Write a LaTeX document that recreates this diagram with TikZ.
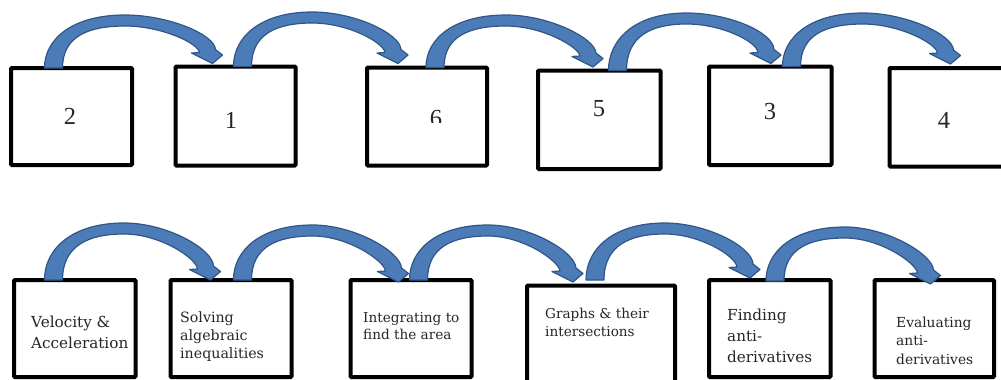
\documentclass[tikz,border=0pt]{standalone}
\usepackage{fontspec}
\setmainfont{DejaVu Serif}
\newfontfamily\numfont{Liberation Serif}
\usetikzlibrary{calc}
\definecolor{arrowblue}{RGB}{76,124,184}
\definecolor{arrowedge}{RGB}{48,86,136}
\tikzset{
  box/.style={draw=black, line width=4pt, rounded corners=1pt, inner sep=0pt, outer sep=0pt, anchor=north west},
  num/.style={font=\numfont\fontsize{24.5}{24.5}\selectfont, inner sep=0pt, text=black!85},
  lbl/.style={align=left, inner sep=0pt, anchor=base west, text=black!85},
  arrowstyle/.style={fill=arrowblue, draw=arrowedge, line width=1.2pt, line join=round}
}
\newcommand\bluearrow[3]{%
  \path[arrowstyle] let \p1=#1, \p2=#2, \n1={\x2-\x1}, \n2={#3} in
   (\x1-9pt,\y1) .. controls (\x1-9pt,\y1+0.55*\n2) and (\x1+0.12*\n1,\y1+\n2) .. (\x1+0.45*\n1,\y1+\n2)
   .. controls (\x1+0.72*\n1,\y1+\n2) and (\x2+2pt,\y2+0.55*\n2) .. (\x2+3pt,\y2+14pt)
   -- (\x2+10pt,\y2+8.5pt) -- (\x2,\y2) -- (\x2-21pt,\y2+10.5pt) -- (\x2-13pt,\y2+11pt)
   .. controls (\x2-14pt,\y2+0.38*\n2) and (\x1+0.68*\n1,\y1+\n2-11pt) .. (\x1+0.45*\n1,\y1+\n2-11pt)
   .. controls (\x1+0.22*\n1,\y1+\n2-11pt) and (\x1+9pt,\y1+0.6*\n2) .. (\x1+9pt,\y1) -- cycle;
}
\begin{document}
\begin{tikzpicture}[x=1pt,y=-1pt]
\clip (0,0) rectangle (1001,380);
\fill[white] (0,0) rectangle (1001,380);
% top row boxes
\node[box, minimum width=121pt, minimum height=97pt] (b2) at (11,68) {};
\node[box, minimum width=120pt, minimum height=99pt] (b1) at (175.5,66.5) {};
\node[box, minimum width=120pt, minimum height=98pt] (b6) at (367,67.5) {};
\node[box, minimum width=122.5pt, minimum height=98.5pt] (b5) at (538,70.5) {};
\node[box, minimum width=122.5pt, minimum height=98.5pt] (b3) at (709,66.5) {};
\node[box, minimum width=130pt, minimum height=98.5pt] (b4) at (889.5,68) {};
% top row labels
\node[num] (n2) at (70,116) {2};
\node[num] (n1) at (231,120) {1};
\begin{scope}
  \clip (400,90) rectangle (470,122.5);
  \node[num] (n6) at (436,118.5) {6};
\end{scope}
\node[num] (n5) at (599,109) {5};
\node[num] (n3) at (770,112) {3};
\node[num] (n4) at (944,120) {4};
% bottom row boxes
\node[box, minimum width=121.5pt, minimum height=97pt] (bv) at (14,280) {};
\node[box, minimum width=121pt, minimum height=97pt] (bs) at (170.5,280) {};
\node[box, minimum width=121pt, minimum height=97pt] (bi) at (350.5,280) {};
\node[box, minimum width=148pt, minimum height=110pt] (bg) at (527,285.5) {};
\node[box, minimum width=121.5pt, minimum height=97pt] (bf) at (709,280) {};
\node[box, minimum width=119.5pt, minimum height=97pt] (be) at (874.5,280) {};
% bottom row labels (anchored at the baseline of the last line)
\node[lbl, font=\fontsize{15.2}{21}\selectfont] (tv) at (31,348) {Velocity \&\\Acceleration};
\node[lbl, font=\fontsize{14.2}{18}\selectfont] (ts) at (180,358) {Solving\\algebraic\\inequalities};
\node[lbl, font=\fontsize{13.6}{17}\selectfont] (ti) at (363,339) {Integrating to\\find the area};
\node[lbl, font=\fontsize{13.6}{18}\selectfont] (tg) at (545,336) {Graphs \& their\\intersections};
\node[lbl, font=\fontsize{15.2}{21}\selectfont] (tf) at (727,362) {Finding\\anti-\\derivatives};
\node[lbl, font=\fontsize{13.8}{18.5}\selectfont] (te) at (896,364) {Evaluating\\anti-\\derivatives};
% top row arrows
\bluearrow{($(b2.north west)+(42.5,0)$)}{($(b1.north west)+(37,-3)$)}{53pt}
\bluearrow{($(b1.north west)+(67,0)$)}{($(b6.north west)+(31,-4)$)}{54.5pt}
\bluearrow{($(b6.north west)+(68,0)$)}{($(b5.north west)+(55,-3.5)$)}{52.5pt}
\bluearrow{($(b5.north west)+(79.5,0)$)}{($(b3.north west)+(62,-3)$)}{57.5pt}
\bluearrow{($(b3.north west)+(82.5,0)$)}{($(b4.north west)+(61,-4)$)}{53.5pt}
% bottom row arrows
\bluearrow{($(bv.north west)+(39.5,0)$)}{($(bs.north west)+(40,0)$)}{57pt}
\bluearrow{($(bs.north west)+(72,0)$)}{($(bi.north west)+(48,2)$)}{55pt}
\bluearrow{($(bi.north west)+(68,0)$)}{($(bg.north west)+(46,-3.5)$)}{55pt}
\bluearrow{($(bg.north west)+(68,-5.5)$)}{($(bf.north west)+(41,-2)$)}{57pt}
\bluearrow{($(bf.north west)+(66,1)$)}{($(be.north west)+(56,4)$)}{54pt}
\end{tikzpicture}
\end{document}
